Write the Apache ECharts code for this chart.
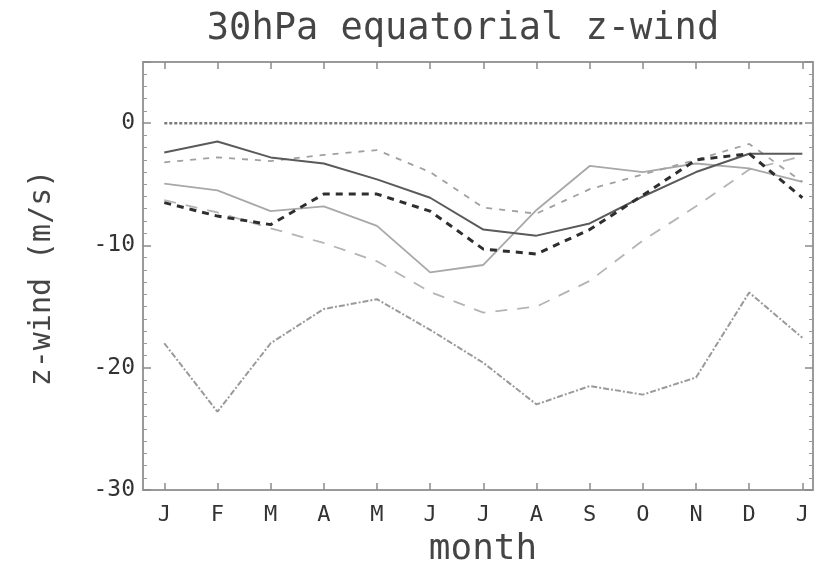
<!DOCTYPE html>
<html>
<head>
<meta charset="utf-8">
<script src="https://cdn.jsdelivr.net/npm/echarts@6/dist/echarts.min.js"></script>
<style>
html,body{margin:0;padding:0;background:#fff;}
#chart{width:816px;height:566px;}
</style>
</head>
<body>
<div id="chart"></div>
<script>
// ---- data ----
const monthLabels = ['J','F','M','A','M','J','J','A','S','O','N','D','J'];
const monthIndex = [0,1,2,3,4,5,6,7,8,9,10,11,12];
const yTicks = [-30,-20,-10,0];
const zeroLine   = [0,0,0,0,0,0,0,0,0,0,0,0,0];
const darkSolid  = [-2.4,-1.5,-2.8,-3.3,-4.6,-6.1,-8.7,-9.2,-8.2,-6.0,-4.0,-2.5,-2.5];
const lightSolid = [-4.95,-5.5,-7.2,-6.8,-8.4,-12.2,-11.6,-7.1,-3.5,-4.0,-3.3,-3.7,-4.8];
const darkDashed = [-6.5,-7.6,-8.3,-5.8,-5.8,-7.2,-10.3,-10.7,-8.7,-5.9,-3.0,-2.5,-6.1];
const grayDashed = [-3.2,-2.8,-3.1,-2.6,-2.2,-4.0,-6.9,-7.4,-5.4,-4.2,-3.0,-1.7,-4.8];
const longDashed = [-6.3,-7.3,-8.6,-9.8,-11.3,-13.8,-15.5,-15.0,-12.9,-9.6,-6.8,-3.8,-2.7];
const dottedLow  = [-18.0,-23.6,-18.0,-15.2,-14.4,-16.9,-19.6,-23.0,-21.5,-22.2,-20.8,-13.85,-17.55];

const FONT = 'DejaVu Sans Mono';
const toPts = arr => arr.map((v,i) => [monthIndex[i], v]);

function line(name, arr, color, width, type){
  return {
    name: name, type: 'line', data: toPts(arr), symbol: 'none',
    xAxisIndex: 0, yAxisIndex: 0,
    lineStyle: {color: color, width: width, type: type},
    silent: true
  };
}

const chart = echarts.init(document.getElementById('chart'), null, {renderer:'canvas'});
const axisLineStyle = {color:'#9a9a9a', width:2};
const tickStyle = {color:'#8a8a8a', width:1.5};
const option = {
  animation: false,
  backgroundColor: '#fff',
  grid: {left:143, right:3, top:62, bottom:76},
  graphic: [
    {type:'text', style:{text:'30hPa equatorial z-wind', x:463, y:29, fontFamily:FONT, fontSize:37, fill:'#454545', textAlign:'center', textVerticalAlign:'middle'}},
    {type:'text', style:{text:'month', x:483, y:550, fontFamily:FONT, fontSize:36, fill:'#454545', textAlign:'center', textVerticalAlign:'middle'}},
    {type:'text', x:42, y:278, rotation:Math.PI/2, style:{text:'z-wind (m/s)', x:0, y:0, fontFamily:FONT, fontSize:30, fill:'#454545', textAlign:'center', textVerticalAlign:'middle'}}
  ],
  xAxis: [
    {type:'value', position:'bottom', min:-0.4, max:12.2,
     axisLine:{show:true, onZero:false, lineStyle:axisLineStyle},
     axisTick:{show:true, inside:true, length:7, customValues:monthIndex, lineStyle:tickStyle},
     axisLabel:{show:true, customValues:monthIndex, formatter: v => monthLabels[Math.round(v)], fontFamily:FONT, fontSize:22, color:'#333', margin:14},
     splitLine:{show:false}},
    {type:'value', position:'top', min:-0.4, max:12.2,
     axisLine:{show:true, onZero:false, lineStyle:axisLineStyle},
     axisTick:{show:true, inside:true, length:7, customValues:monthIndex, lineStyle:tickStyle},
     axisLabel:{show:false},
     splitLine:{show:false}}
  ],
  yAxis: [
    {type:'value', position:'left', min:yTicks[0], max:5, interval:10,
     axisLine:{show:true, onZero:false, lineStyle:axisLineStyle},
     axisTick:{show:true, inside:true, length:8, lineStyle:tickStyle},
     minorTick:{show:true, splitNumber:10, length:4, lineStyle:{color:'#9a9a9a', width:1}},
     axisLabel:{show:true, showMaxLabel:false, fontFamily:FONT, fontSize:23, color:'#333', margin:8},
     splitLine:{show:false}},
    {type:'value', position:'right', min:yTicks[0], max:5, interval:10,
     axisLine:{show:true, onZero:false, lineStyle:axisLineStyle},
     axisTick:{show:true, inside:true, length:8, lineStyle:tickStyle},
     minorTick:{show:true, splitNumber:10, length:4, lineStyle:{color:'#9a9a9a', width:1}},
     axisLabel:{show:false},
     splitLine:{show:false}}
  ],
  series: [
    line('zero', zeroLine, '#7a7a7a', 2.5, [3,2]),
    line('dottedLow', dottedLow, '#9a9a9a', 2, [6,2,2,2]),
    line('longDashed', longDashed, '#b4b4b4', 1.8, [12,10]),
    line('lightSolid', lightSolid, '#a8a8a8', 1.8, 'solid'),
    line('grayDashed', grayDashed, '#a0a0a0', 1.8, [6,7]),
    line('darkSolid', darkSolid, '#5a5a5a', 2, 'solid'),
    line('darkDashed', darkDashed, '#2e2e2e', 3, [7,6])
  ]
};
chart.setOption(option);
</script>
</body>
</html>
